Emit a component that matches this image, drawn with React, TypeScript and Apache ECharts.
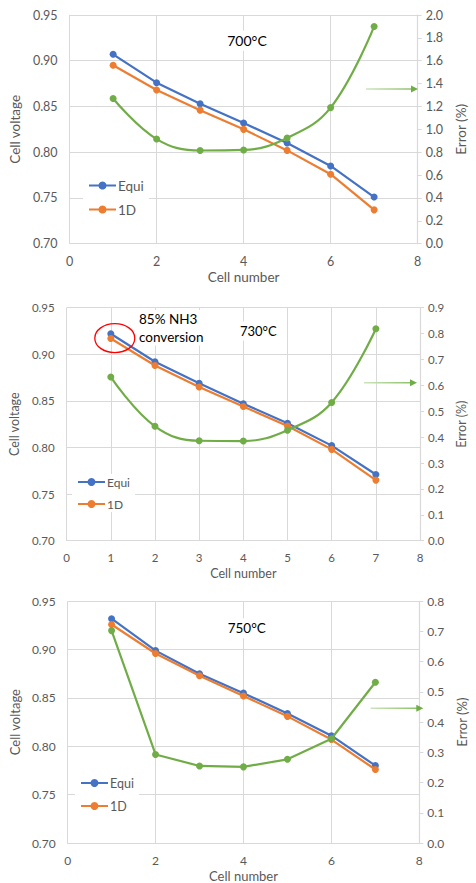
import React, { useEffect, useRef } from "react";
import * as echarts from "echarts";

const cells = [1, 2, 3, 4, 5, 6, 7];

const equi700 = [0.907, 0.876, 0.853, 0.832, 0.81, 0.785, 0.751];
const oneD700 = [0.895, 0.868, 0.846, 0.825, 0.802, 0.776, 0.737];
const err700 = [1.27, 0.915, 0.815, 0.82, 0.925, 1.19, 1.9];

const equi730 = [0.922, 0.892, 0.869, 0.847, 0.826, 0.802, 0.771];
const oneD730 = [0.917, 0.888, 0.865, 0.844, 0.823, 0.798, 0.765];
const err730 = [0.632, 0.442, 0.386, 0.385, 0.427, 0.534, 0.819];

const equi750 = [0.932, 0.899, 0.875, 0.855, 0.834, 0.811, 0.78];
const oneD750 = [0.926, 0.896, 0.873, 0.852, 0.831, 0.807, 0.776];
const err750 = [0.703, 0.293, 0.255, 0.252, 0.277, 0.345, 0.532];

const titles = ["700°C", "730°C", "750°C"];
const xIntervals = [2, 1, 2];
const errMax = [2.0, 0.9, 0.8];
const errInterval = [0.2, 0.1, 0.1];
const smoothErr = [true, true, false];

const BLUE = "#4472C4";
const ORANGE = "#ED7D31";
const GREEN = "#70AD47";
const GRID = "#D9D9D9";
const TXT = "#595959";
const FONT = "Lato, 'Open Sans', sans-serif";

const panels = [
  { left: 62.7, top: 15, width: 368.3, height: 228.7, fs: 12.5, legTop: 176.5, legLeft: 83, legFs: 13.5, title: [247, 40.7], arrow: [366, 418, 89] },
  { left: 56.7, top: 307.7, width: 375.6, height: 233, fs: 11.5, legTop: 474, legLeft: 72, legFs: 12, title: [258.3, 331], arrow: [364, 417, 382.7] },
  { left: 60.3, top: 601.3, width: 373, height: 242.7, fs: 12, legTop: 774.5, legLeft: 75, legFs: 12.5, title: [246.7, 628.3], arrow: [370.7, 423.3, 708.3] },
];

const equiAll = [equi700, equi730, equi750];
const oneDAll = [oneD700, oneD730, oneD750];
const errAll = [err700, err730, err750];

const pairs = (ys: number[]) => cells.map((c, i) => [c, ys[i]]);

export default function App() {
  const ref = useRef<HTMLDivElement>(null);
  useEffect(() => {
    if (!ref.current) return;
    const chart = echarts.init(ref.current, null, { renderer: "svg" });
    const grid: any[] = [];
    const xAxis: any[] = [];
    const yAxis: any[] = [];
    const series: any[] = [];
    const legend: any[] = [];
    const graphic: any[] = [];

    panels.forEach((p, k) => {
      grid.push({ left: p.left, top: p.top, width: p.width, height: p.height, containLabel: false });
      xAxis.push({
        type: "value",
        gridIndex: k,
        min: 0,
        max: 8,
        interval: xIntervals[k],
        name: "Cell number",
        nameLocation: "middle",
        nameGap: 26,
        nameTextStyle: { color: TXT, fontSize: p.fs + 1, fontFamily: FONT },
        axisLine: { show: true, lineStyle: { color: GRID, width: 1.2 } },
        axisTick: { show: false },
        splitLine: { show: true, lineStyle: { color: GRID, width: 1 } },
        axisLabel: { color: TXT, fontSize: p.fs, fontFamily: FONT, margin: 11 },
      });
      yAxis.push({
        type: "value",
        gridIndex: k,
        position: "left",
        min: 0.7,
        max: 0.95,
        interval: 0.05,
        name: "Cell voltage",
        nameLocation: "middle",
        nameGap: 39,
        nameTextStyle: { color: TXT, fontSize: p.fs + 1, fontFamily: FONT },
        axisLine: { show: false },
        axisTick: { show: false },
        splitLine: { show: true, lineStyle: { color: GRID, width: 1 } },
        axisLabel: { color: TXT, fontSize: p.fs, fontFamily: FONT, margin: 12, formatter: (v: number) => v.toFixed(2) },
      });
      yAxis.push({
        type: "value",
        gridIndex: k,
        position: "right",
        min: 0,
        max: errMax[k],
        interval: errInterval[k],
        name: "Error (%)",
        nameLocation: "middle",
        nameRotate: 90,
        nameGap: 33,
        nameTextStyle: { color: TXT, fontSize: p.fs + 1, fontFamily: FONT },
        axisLine: { show: true, lineStyle: { color: GRID, width: 1.2 } },
        axisTick: { show: true, length: 4, lineStyle: { color: GRID } },
        splitLine: { show: false },
        axisLabel: { color: TXT, fontSize: p.fs, fontFamily: FONT, margin: 8, formatter: (v: number) => v.toFixed(1) },
      });
      series.push({
        name: "Equi",
        type: "line",
        xAxisIndex: k,
        yAxisIndex: 2 * k,
        data: pairs(equiAll[k]),
        symbol: "circle",
        symbolSize: 7,
        itemStyle: { color: BLUE },
        lineStyle: { color: BLUE, width: 2.2 },
        z: 2,
      });
      series.push({
        name: "1D",
        type: "line",
        xAxisIndex: k,
        yAxisIndex: 2 * k,
        data: pairs(oneDAll[k]),
        symbol: "circle",
        symbolSize: 7,
        itemStyle: { color: ORANGE },
        lineStyle: { color: ORANGE, width: 2.2 },
        z: 3,
      });
      series.push({
        name: "Error",
        type: "line",
        xAxisIndex: k,
        yAxisIndex: 2 * k + 1,
        data: pairs(errAll[k]),
        symbol: "circle",
        symbolSize: 7,
        smooth: smoothErr[k] ? 0.4 : false,
        itemStyle: { color: GREEN },
        lineStyle: { color: GREEN, width: 2.2 },
        z: 4,
      });
      legend.push({
        data: ["Equi", "1D"],
        orient: "vertical",
        left: p.legLeft,
        top: p.legTop,
        itemWidth: 27,
        itemHeight: 10,
        itemGap: 10,
        padding: [2, 5, 2, 5],
        backgroundColor: "#fff",
        selectedMode: false,
        textStyle: { color: TXT, fontSize: p.legFs, fontFamily: FONT, padding: [0, 0, 0, -3] },
      });
      graphic.push({
        type: "text",
        x: p.title[0],
        y: p.title[1],
        z: 10,
        style: {
          text: titles[k],
          fill: "#000",
          font: `${p.fs + 1.5}px ${FONT}`,
          align: "center",
          verticalAlign: "middle",
          backgroundColor: "#fff",
          padding: [3, 4],
        },
      });
      const [ax1, ax2, ay] = p.arrow;
      graphic.push({
        type: "rect",
        z: 10,
        shape: { x: ax1, y: ay - 0.8, width: ax2 - ax1 - 6, height: 1.6 },
        style: {
          fill: new echarts.graphic.LinearGradient(0, 0, 1, 0, [
            { offset: 0, color: "#CDE4BD" },
            { offset: 1, color: "#8DC16A" },
          ]),
        },
      });
      graphic.push({
        type: "polygon",
        z: 10,
        shape: { points: [[ax2 - 7, ay - 3.5], [ax2, ay], [ax2 - 7, ay + 3.5]] },
        style: { fill: GREEN },
      });
    });

    graphic.push({
      type: "text",
      x: 137,
      y: 310,
      z: 10,
      style: {
        text: "85% NH3\nconversion",
        fill: "#000",
        font: `13.5px ${FONT}`,
        lineHeight: 17.7,
        align: "left",
        verticalAlign: "top",
        backgroundColor: "#fff",
        padding: [0, 2],
      },
    });

    chart.setOption({
      animation: false,
      backgroundColor: "#fff",
      grid,
      xAxis,
      yAxis,
      series,
      legend,
      graphic,
    });

    const c = chart.convertToPixel({ xAxisIndex: 1, yAxisIndex: 2 }, [1, (equi730[0] + oneD730[0]) / 2]) as number[];
    graphic.push({
      type: "ellipse",
      z: 11,
      shape: { cx: c[0] + 4, cy: c[1] + 2, rx: 20, ry: 14.5 },
      style: { fill: "none", stroke: "#FF0000", lineWidth: 1.3 },
    });
    chart.setOption({ graphic });

    return () => chart.dispose();
  }, []);
  return <div ref={ref} style={{ position: "absolute", left: 0, top: 0, width: 476, height: 883 }} />;
}
